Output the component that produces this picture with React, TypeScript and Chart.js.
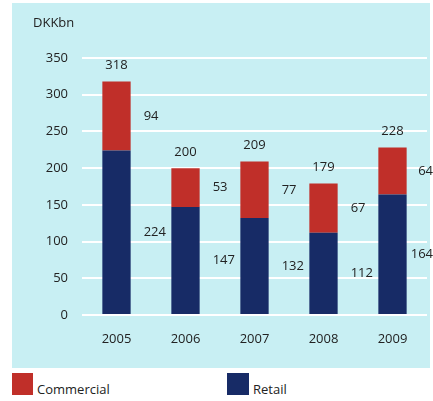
import React, { useEffect, useRef } from "react";
import { Chart, registerables } from "chart.js";

Chart.register(...registerables);

const categories = ["2005", "2006", "2007", "2008", "2009"];
const retail = [224, 147, 132, 112, 164];
const commercial = [94, 53, 77, 67, 64];
const totals = [318, 200, 209, 179, 228];
const yTicks = [0, 50, 100, 150, 200, 250, 300, 350];

const RED = "#c02f29";
const NAVY = "#172b66";
const CYAN = "#c8eff3";
const TEXT = "#222222";
const FONT = "'Open Sans', 'Noto Sans', sans-serif";

const labelPlugin = {
  id: "valueLabels",
  afterDatasetsDraw(chart: any) {
    const ctx = chart.ctx;
    ctx.save();
    ctx.font = `13px ${FONT}`;
    ctx.fillStyle = TEXT;
    ctx.textBaseline = "middle";
    const metaR = chart.getDatasetMeta(0);
    const metaC = chart.getDatasetMeta(1);
    const side = (txt: string, bar: any, y: number) => {
      const w = ctx.measureText(txt).width;
      const x = Math.min(bar.x + bar.width / 2 + 13, chart.width - w);
      ctx.textAlign = "left";
      ctx.fillText(txt, x, y);
    };
    metaR.data.forEach((bar: any, i: number) => {
      const barC = metaC.data[i];
      side(String(retail[i]), bar, (bar.y + bar.base) / 2);
      side(String(commercial[i]), barC, (barC.y + barC.base) / 2);
      ctx.textAlign = "center";
      ctx.fillText(String(totals[i]), bar.x, barC.y - 16);
    });
    ctx.restore();
  },
};

export default function App() {
  const ref = useRef<HTMLCanvasElement | null>(null);
  useEffect(() => {
    if (!ref.current) return;
    const chart = new Chart(ref.current, {
      type: "bar",
      data: {
        labels: categories,
        datasets: [
          { label: "Retail", data: retail, backgroundColor: NAVY, borderWidth: 0 },
          { label: "Commercial", data: commercial, backgroundColor: RED, borderWidth: 0 },
        ],
      },
      options: {
        animation: false,
        responsive: false,
        maintainAspectRatio: false,
        layout: { padding: { top: 55, right: 6, left: 0, bottom: 0 } },
        plugins: { legend: { display: false }, tooltip: { enabled: false } },
        datasets: { bar: { categoryPercentage: 1, barPercentage: 0.41 } },
        scales: {
          x: {
            stacked: true,
            grid: { display: false, drawTicks: false },
            border: { display: false },
            ticks: { color: TEXT, font: { family: FONT, size: 13 }, padding: 16 },
            afterFit: (s: any) => { s.height = 53; },
          },
          y: {
            stacked: true,
            min: 0,
            max: 350,
            afterBuildTicks: (s: any) => { s.ticks = yTicks.map((v) => ({ value: v })); },
            grid: { color: "#ffffff", lineWidth: 2, drawTicks: false },
            border: { display: false },
            ticks: { color: TEXT, font: { family: FONT, size: 13 }, padding: 14 },
            afterFit: (s: any) => { s.width = 70; },
          },
        },
      },
      plugins: [labelPlugin],
    });
    return () => chart.destroy();
  }, []);

  return (
    <div style={{ position: "absolute", left: 0, top: 0, width: 433, height: 401, background: "#ffffff", fontFamily: FONT, overflow: "hidden" }}>
      <div style={{ position: "absolute", left: 12, top: 3, width: 418, height: 365, background: CYAN }} />
      <canvas ref={ref} width={421} height={365} style={{ position: "absolute", left: 12, top: 3, width: 421, height: 365 }} />
      <div style={{ position: "absolute", left: 33, top: 14, fontSize: 13, color: TEXT, lineHeight: "16px" }}>DKKbn</div>
      <div style={{ position: "absolute", left: 12, top: 373, width: 21, height: 22, background: RED }} />
      <div style={{ position: "absolute", left: 37, top: 381, fontSize: 13, color: TEXT, lineHeight: "16px" }}>Commercial</div>
      <div style={{ position: "absolute", left: 227, top: 373, width: 22, height: 22, background: NAVY }} />
      <div style={{ position: "absolute", left: 253, top: 381, fontSize: 13, color: TEXT, lineHeight: "16px" }}>Retail</div>
    </div>
  );
}
